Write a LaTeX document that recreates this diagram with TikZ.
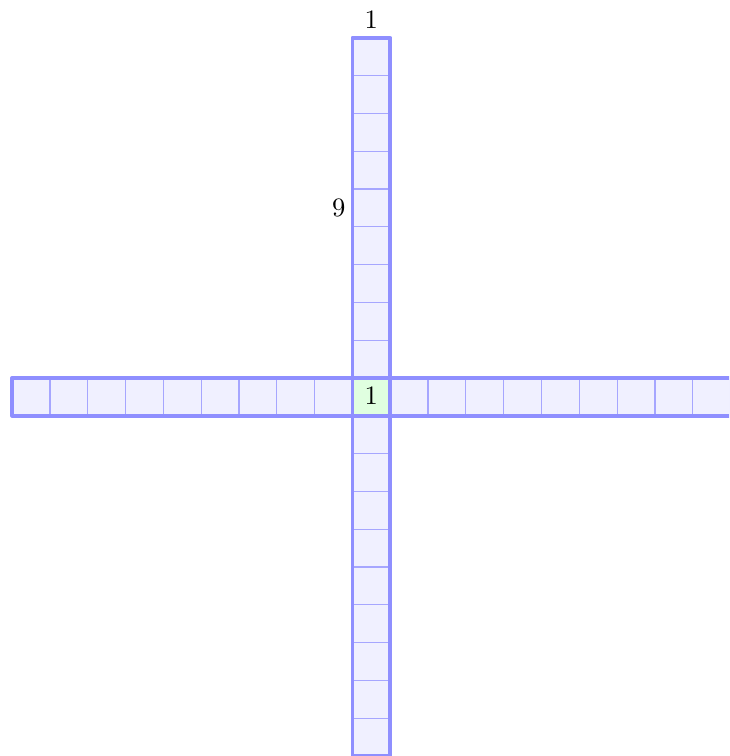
\documentclass[tikz,border=0pt]{standalone}
\begin{document}
\begin{tikzpicture}[x=0.5cm,y=-0.5cm,
  outerline/.style={draw=blue!44,line width=1.5pt,line join=round},
  cellline/.style={draw=blue!35,line width=0.45pt},
  barfill/.style={fill=blue!6},
  lbl/.style={inner sep=0pt,font=\normalsize}]
\useasboundingbox (0,0) rectangle (19.286,20);
\clip (0,0) rectangle (19.286,20);
% fills
\fill[barfill] (9.325,1) rectangle (10.325,20);
\fill[barfill] (0.325,10) rectangle (19.325,11);
\fill[green!12] (9.325,10) rectangle (10.325,11);
% cell separators
\foreach \k in {1,...,18} {
  \draw[cellline] (9.325,1+\k) -- (10.325,1+\k);
  \draw[cellline] (0.325+\k,10) -- (0.325+\k,11);
}
% outlines
\draw[outerline] (9.325,1) rectangle (10.325,20);
\draw[outerline] (0.325,10) rectangle (19.325,11);
% labels
\node[lbl] (top) at (9.82,0.53) {1};
\node[lbl] (nine) at (8.96,5.5) {9};
\node[lbl] (center) at (9.82,10.48) {1};
\end{tikzpicture}
\end{document}
